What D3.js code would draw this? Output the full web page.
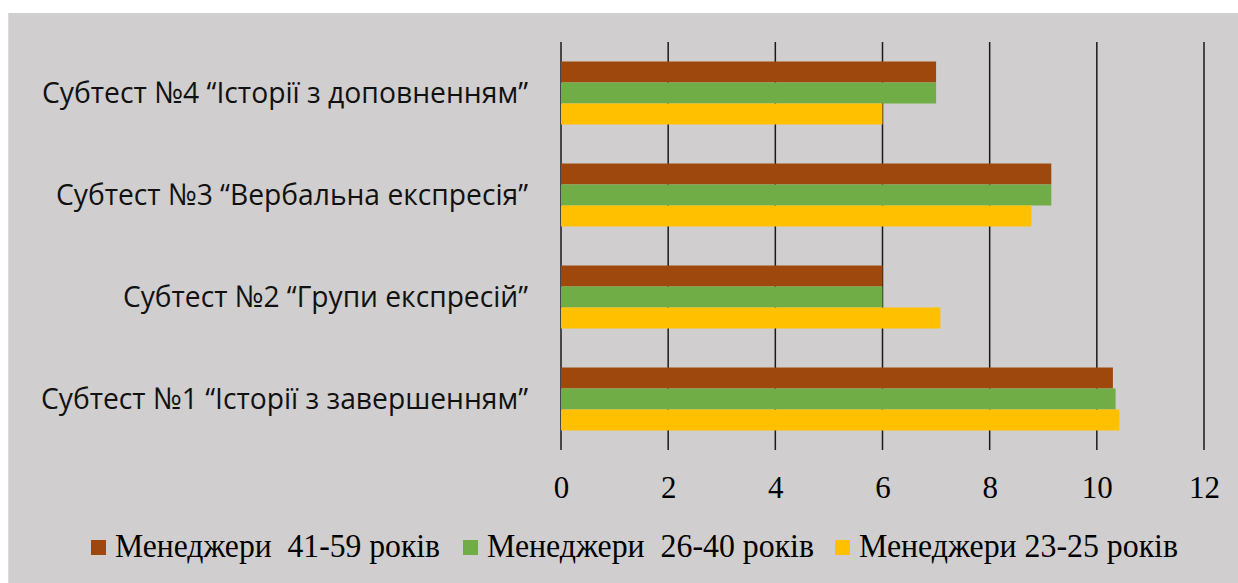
<!DOCTYPE html>
<html><head><meta charset="utf-8">
<script src="https://cdn.jsdelivr.net/npm/d3@7"></script>
<style>body{margin:0;background:#fff}svg{display:block}</style>
</head><body>
<svg id="c" width="1238" height="583"></svg>
<script>
const categories = [
  "Субтест №4 “Історії з доповненням”",
  "Субтест №3 “Вербальна експресія”",
  "Субтест №2 “Групи експресій”",
  "Субтест №1 “Історії з завершенням”"
];
const seriesNames = ["Менеджери  41-59 років", "Менеджери  26-40 років", "Менеджери 23-25 років"];
const seriesColors = ["#9E480E", "#70AD47", "#FFC000"];
const values4159 = [7, 9.15, 6, 10.3];
const values2640 = [7, 9.15, 6, 10.35];
const values2325 = [6, 8.78, 7.08, 10.42];
const tickValues = [0, 2, 4, 6, 8, 10, 12];
const labelWidths = [486, 472, 405, 487];
const legendWidths = [325, 327, 319];

const seriesValues = [values4159, values2640, values2325];
const svg = d3.select("#c");
svg.append("rect").attr("x", 8).attr("y", 13).attr("width", 1230).attr("height", 570).attr("fill", "#D0CECE");
svg.append("line").attr("x1", 8.5).attr("x2", 8.5).attr("y1", 13).attr("y2", 583).attr("stroke", "#dcdada");

const x = d3.scaleLinear().domain([0, 12]).range([561, 1204]);
const y = d3.scaleBand().domain(categories).range([42, 450]).paddingInner(0.3824).paddingOuter(0.1912);
const ys = d3.scaleBand().domain(d3.range(3)).range([0, y.bandwidth()]);

// gridlines
svg.append("g").selectAll("line").data(tickValues).join("line")
  .attr("x1", d => x(d)).attr("x2", d => x(d))
  .attr("y1", 42).attr("y2", 450)
  .attr("stroke", "#1a1a1a").attr("stroke-width", 1.5);

// bars
const rows = [];
categories.forEach((c, i) => seriesValues.forEach((s, j) => rows.push({c, j, v: s[i]})));
svg.append("g").selectAll("rect").data(rows).join("rect")
  .attr("x", x(0)).attr("y", d => y(d.c) + ys(d.j))
  .attr("width", d => x(d.v) - x(0)).attr("height", ys.bandwidth())
  .attr("fill", d => seriesColors[d.j]);

// x tick labels
const ax = d3.axisBottom(x).tickValues(tickValues).tickSize(0).tickPadding(0);
const gx = svg.append("g").attr("transform", "translate(0,498)").call(ax);
gx.select(".domain").remove();
gx.selectAll("text").attr("font-family", "'Liberation Serif', 'Times New Roman', serif")
  .attr("font-size", 31).attr("fill", "#000").attr("dy", "0");

// category labels
svg.append("g").selectAll("text").data(categories).join("text")
  .attr("x", 528).attr("y", d => y(d) + y.bandwidth() / 2 + 10)
  .attr("text-anchor", "end")
  .attr("font-family", "'Open Sans', 'Liberation Sans', sans-serif")
  .attr("font-size", 30).attr("fill", "#111")
  .attr("textLength", (d, i) => labelWidths[i]).attr("lengthAdjust", "spacingAndGlyphs")
  .text(d => d);

// legend
const legX = [91, 463, 835];
const leg = svg.append("g").selectAll("g").data(seriesNames).join("g");
leg.append("rect").attr("x", (d, i) => legX[i]).attr("y", 540).attr("width", 15).attr("height", 15)
  .attr("fill", (d, i) => seriesColors[i]);
leg.append("text").attr("x", (d, i) => legX[i] + 24).attr("y", 557)
  .attr("font-family", "'Liberation Serif', 'Times New Roman', serif")
  .attr("font-size", 33).attr("fill", "#000")
  .attr("textLength", (d, i) => legendWidths[i]).attr("lengthAdjust", "spacingAndGlyphs")
  .attr("xml:space", "preserve").style("white-space", "pre")
  .text(d => d);
</script>
</body></html>
